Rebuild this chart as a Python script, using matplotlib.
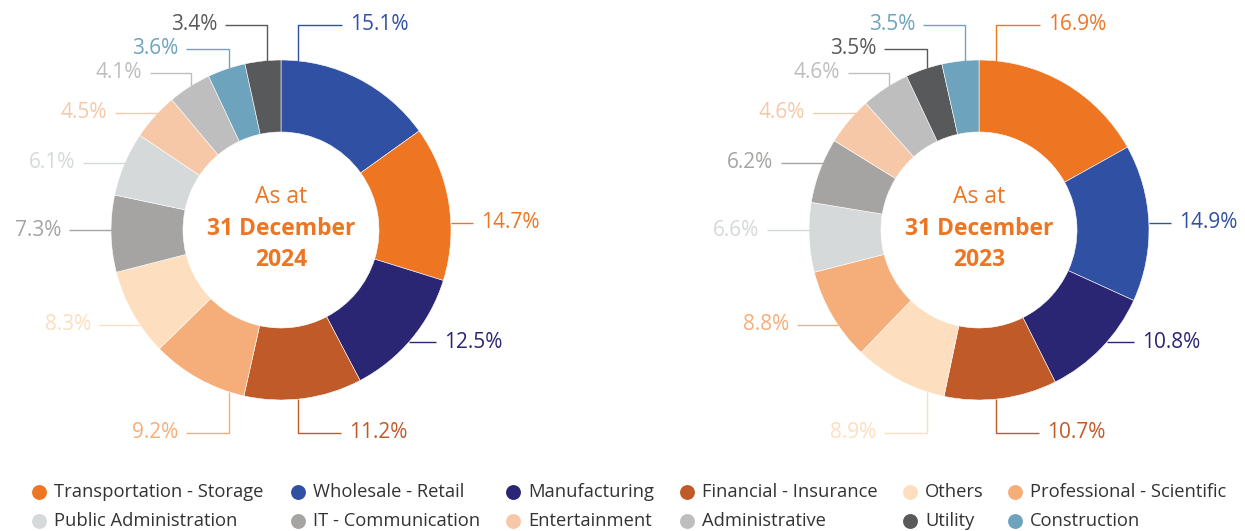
import numpy as np
import matplotlib.pyplot as plt

plt.rcParams['font.family'] = ['Open Sans', 'DejaVu Sans']

W, H = 1245, 531

# category colours
colors = {
    'Transportation - Storage': '#EE7623',
    'Wholesale - Retail': '#3050A3',
    'Manufacturing': '#2B2673',
    'Financial - Insurance': '#C05A28',
    'Others': '#FDDEBF',
    'Professional - Scientific': '#F5AE7A',
    'Public Administration': '#D5D9DA',
    'IT - Communication': '#A5A4A2',
    'Entertainment': '#F6C8A8',
    'Administrative': '#BEBEBE',
    'Utility': '#58595B',
    'Construction': '#6DA3BC',
}

legend_order = ['Transportation - Storage', 'Wholesale - Retail', 'Manufacturing',
                'Financial - Insurance', 'Others', 'Professional - Scientific',
                'Public Administration', 'IT - Communication', 'Entertainment',
                'Administrative', 'Utility', 'Construction']

# 2024 (clockwise from 12 o'clock)
cats_2024 = ['Wholesale - Retail', 'Transportation - Storage', 'Manufacturing',
             'Financial - Insurance', 'Professional - Scientific', 'Others',
             'IT - Communication', 'Public Administration', 'Entertainment',
             'Administrative', 'Construction', 'Utility']
values_2024 = [15.1, 14.7, 12.5, 11.2, 9.2, 8.3, 7.3, 6.1, 4.5, 4.1, 3.6, 3.4]

# 2023
cats_2023 = ['Transportation - Storage', 'Wholesale - Retail', 'Manufacturing',
             'Financial - Insurance', 'Others', 'Professional - Scientific',
             'Public Administration', 'IT - Communication', 'Entertainment',
             'Administrative', 'Utility', 'Construction']
values_2023 = [16.9, 14.9, 10.8, 10.7, 8.9, 8.8, 6.6, 6.2, 4.6, 4.6, 3.5, 3.5]

# label leader layout per slot (pixels relative to centre, y down)
# ('h', side, label_dy, end_dx)  horizontal leader
# ('v', anchor_dx, label_dy, end_dx)  vertical then horizontal
slots = [
    ('v', 17, -205, 61),
    ('h', 1, -7, 192),
    ('h', 1, 112, 155),
    ('v', 17, 203, 60),
    ('v', -52, 203, -95),
    ('h', -1, 95, -182),
    ('h', -1, 0, -212),
    ('h', -1, -67, -198),
    ('h', -1, -117, -166),
    ('v', -90, -157, -131),
    ('v', -52, -181, -95),
    ('v', -14, -205, -56),
]

R = 170
RING = 72
ORANGE = '#EE7623'

fig = plt.figure(figsize=(W / 100, H / 100), dpi=100)
ax = fig.add_axes([0, 0, 1, 1])


def yy(y):
    return H - y


def donut(cx, cy, cats, vals, year):
    cols = [colors[c] for c in cats]
    ax.pie(vals, colors=cols, startangle=90, counterclock=False, radius=R,
           center=(cx, yy(cy)),
           wedgeprops=dict(width=RING, edgecolor='white', linewidth=0.4))

    for (kind, a, ldy, edx), v, col in zip(slots, vals, cols):
        if kind == 'h':
            ax_ = a * np.sqrt(R ** 2 - ldy ** 2)
            xs = [cx + ax_, cx + edx]
            ys = [cy + ldy, cy + ldy]
        else:
            sgn = 1 if ldy > 0 else -1
            ay = sgn * np.sqrt(R ** 2 - a ** 2)
            xs = [cx + a, cx + a, cx + edx]
            ys = [cy + ay, cy + ldy, cy + ldy]
        ax.plot(xs, [yy(y) for y in ys], color=col, lw=1.0, solid_capstyle='butt')
        ha = 'left' if edx > 0 else 'right'
        tx = cx + edx + (8 if edx > 0 else -8)
        ax.text(tx, yy(cy + ldy), f'{v}%', color=col, fontsize=15,
                ha=ha, va='center')

    ax.text(cx, yy(cy - 33), 'As at', color=ORANGE, fontsize=16.5,
            ha='center', va='center')
    ax.text(cx, yy(cy - 1), '31 December', color=ORANGE, fontsize=16.5,
            fontweight='bold', ha='center', va='center')
    ax.text(cx, yy(cy + 30), year, color=ORANGE, fontsize=16.5,
            fontweight='bold', ha='center', va='center')


donut(281, 230, cats_2024, values_2024, '2024')
donut(979, 230, cats_2023, values_2023, '2023')

# legend grid
col_x = [39, 298, 513, 687, 910, 1015]
row_y = [492, 521]
for i, name in enumerate(legend_order):
    x = col_x[i % 6]
    y = row_y[i // 6]
    ax.scatter([x], [yy(y)], s=115, color=colors[name], linewidths=0, clip_on=False)
    ax.text(x + 15, yy(y), name, color='#333333', fontsize=13.2,
            ha='left', va='center')

ax.set_xlim(0, W)
ax.set_ylim(0, H)
ax.set_aspect('auto')
ax.axis('off')

fig.savefig('out.png', dpi=100)
